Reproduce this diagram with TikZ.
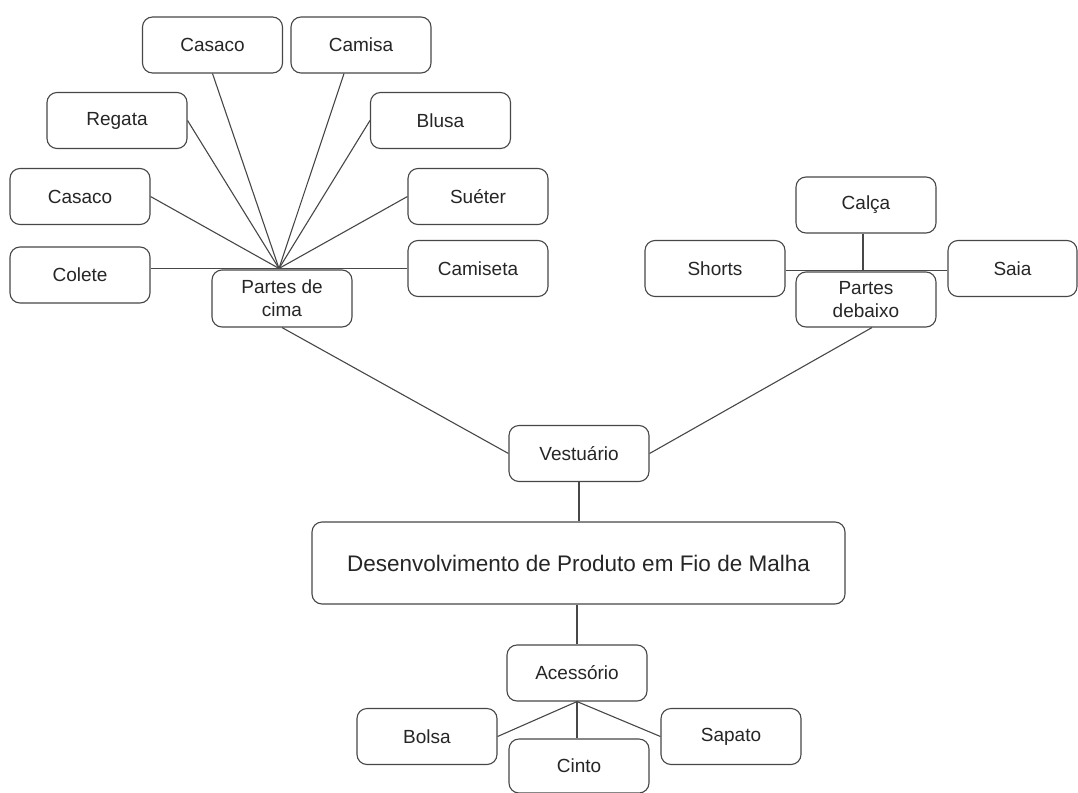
\documentclass[tikz,border=0pt]{standalone}
\usepackage{fontspec}
\setmainfont{Liberation Sans}
\usetikzlibrary{calc}
\begin{document}
\begin{tikzpicture}[x=1pt,y=-1pt,
  box/.style={draw=black!72, line width=1.1pt, rounded corners=10pt, fill=white,
    minimum width=140pt, minimum height=56pt, inner sep=0pt, align=center,
    font=\fontsize{19}{23}\selectfont, text=black!85},
  link/.style={draw=black!72, line width=1.1pt}]
\useasboundingbox (0,0) rectangle (1078,792);
% upper tops
\node[box] (casacoA) at (212.5,45) {Casaco};
\node[box] (camisa) at (361,45) {Camisa};
\node[box] (regata) at (117,120.5) {Regata};
\node[box] (blusa) at (440.5,120.5) {Blusa};
\node[box] (casacoB) at (80,196.5) {Casaco};
\node[box] (sueter) at (478,196.5) {Suéter};
\node[box] (colete) at (80,275) {Colete};
\node[box] (camiseta) at (478,268.5) {Camiseta};
\node[box, minimum height=57pt] (pc) at (282,298.5) {Partes de\\cima};
% bottoms
\node[box] (calca) at (866,205) {Calça};
\node[box] (shorts) at (715,268.5) {Shorts};
\node[box, minimum width=129pt] (saia) at (1012.5,268.5) {Saia};
\node[box, minimum height=55pt] (pd) at (866,299.5) {Partes\\debaixo};
% center
\node[box] (vest) at (579,453.5) {Vestuário};
\node[box, minimum width=533pt, minimum height=82pt, font=\fontsize{22.5}{27}\selectfont] (main) at (578.5,563) {Desenvolvimento de Produto em Fio de Malha};
\node[box] (acess) at (577,673) {Acessório};
\node[box] (bolsa) at (427,736.5) {Bolsa};
\node[box, minimum height=54pt] (cinto) at (579,766) {Cinto};
\node[box] (sapato) at (731,736.5) {Sapato};
% hubs
\coordinate (ha) at ($(pc.north)+(-3,-1)$);
\coordinate (hb) at ($(pd.north)+(-3,-1)$);
% connectors upper
\draw[link] (casacoA.south) -- (ha);
\draw[link] ($(camisa.south)+(-17,0)$) -- (ha);
\draw[link] (regata.east) -- (ha);
\draw[link] (blusa.west) -- (ha);
\draw[link] (casacoB.east) -- (ha);
\draw[link] (sueter.west) -- (ha);
\draw[link] (colete.east |- ha) -- (ha) -- (camiseta.west |- ha);
\draw[link] (calca.south -| hb) -- (hb);
\draw[link] (shorts.east |- hb) -- (saia.west |- hb);
\draw[link] (pc.south) -- (vest.west);
\draw[link] ($(pd.south)+(6,0)$) -- (vest.east);
\draw[link] (vest.south) -- (vest.south |- main.north);
\draw[link] (acess.north |- main.south) -- (acess.north);
\draw[link] (acess.south) -- (bolsa.east);
\draw[link] (acess.south) -- (sapato.west);
\draw[link] (acess.south) -- (acess.south |- cinto.north);
\end{tikzpicture}
\end{document}
